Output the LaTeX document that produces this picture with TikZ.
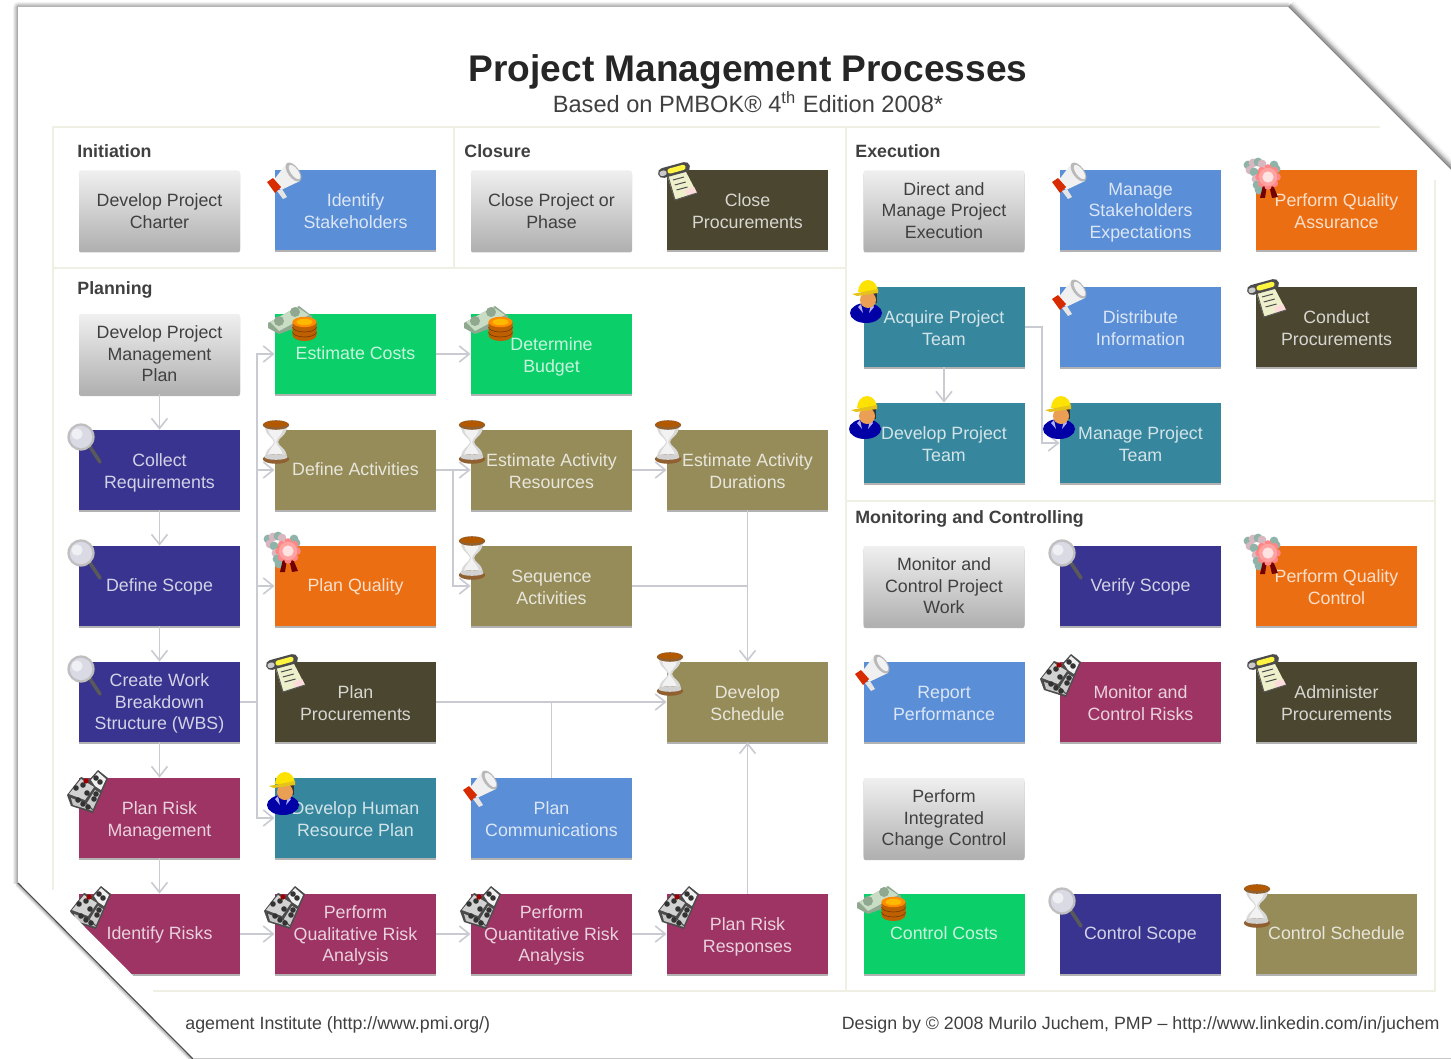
\documentclass[tikz,border=0pt]{standalone}
\usepackage{fontspec}
\setmainfont{Liberation Sans}
\usetikzlibrary{arrows.meta,shadows}
\definecolor{frameC}{HTML}{EFEFE4}
\definecolor{connC}{HTML}{C9CAD2}
\definecolor{inkC}{HTML}{404040}
\definecolor{blueC}{HTML}{5A8ED6}
\definecolor{greenC}{HTML}{0BCF69}
\definecolor{navyC}{HTML}{39348F}
\definecolor{oliveC}{HTML}{968C5A}
\definecolor{orangeC}{HTML}{EB6F12}
\definecolor{darkC}{HTML}{4B462F}
\definecolor{tealC}{HTML}{36879D}
\definecolor{roseC}{HTML}{9D3464}
\definecolor{billC}{HTML}{8FA88F}
\definecolor{billL}{HTML}{C9DCC4}
\definecolor{paperC}{HTML}{EEF0CC}
\definecolor{lensC}{HTML}{D9DAE4}
\definecolor{leafC}{HTML}{8FB3A8}
\definecolor{leafP}{HTML}{D8B8C0}
\def\boxh{20.3pt}
\newcommand{\boxstrutA}{\vrule width 0pt height \boxh depth 0pt\relax}
\newcommand{\boxstrutB}{\vrule width 0pt height 0pt depth 2.3pt\relax}
\tikzset{
  x=0.5pt,y=-0.5pt,
  oneline/.code={\def\boxh{8.1pt}},
  threeline/.code={\def\boxh{30.1pt}},
  box/.style={minimum width=80.5pt,minimum height=40pt,inner sep=0pt,align=center,
    font=\fontsize{8.9}{10.8}\selectfont,
    execute at begin node=\boxstrutA,execute at end node=\boxstrutB,
    drop shadow={shadow xshift=0pt,shadow yshift=-1pt,opacity=.3,fill=black}},
  colorbox/.style={box,fill=#1,text=white!78!#1},
  greybox/.style={box,rounded corners=1pt,top color=gray!12,bottom color=gray!62,text=inkC},
  sect/.style={anchor=base west,font=\bfseries\fontsize{8.9}{11}\selectfont,text=inkC,inner sep=0pt},
  foot/.style={font=\fontsize{8.9}{11}\selectfont,text=inkC,inner sep=0pt},
  frameline/.style={draw=frameC,line width=1.2pt},
  conn/.style={draw=connC,line width=0.9pt},
  arr/.style={conn,-{Straight Barb[length=5pt,width=8pt,line width=0.8pt]}},
  pics/horn/.style={code={
    \fill[white!88!gray] (-2,11)--(12,-7)--(25,11)--(6,20)--cycle;
    \fill[gray!55,rotate around={-54:(18.5,2)}] (18.5,2) ellipse (5.5pt and 2.8pt);
    \fill[white!90!gray,rotate around={-54:(19.5,2)}] (19.5,2) ellipse (4.2pt and 1.8pt);
    \fill[red!60!orange!85!black] (-8,12)--(-2,8)--(6,17)--(0,23)--cycle;
    \fill[white!80!gray] (2,21)--(7,19)--(12,27)--(8,29)--cycle;}},
  pics/cash/.style={code={
    \fill[billC] (-7,9)--(24,-8)--(37,2)--(37,8)--(4,20)--(-7,14)--cycle;
    \fill[billL] (-5,8)--(22,-7)--(34,1)--(4,17)--cycle;
    \fill[billC] (4,7) circle (2.5pt);
    \fill[billC] (20,-2) circle (2.5pt);
    \fill[orange!75!black] (17.5,8)--(41.5,8)--(41.5,21) arc[start angle=0,end angle=180,x radius=12,y radius=6]--cycle;
    \draw[orange!45!black,line width=.3pt] (17.5,13) arc[start angle=180,end angle=0,x radius=12,y radius=5];
    \draw[orange!45!black,line width=.3pt] (17.5,18) arc[start angle=180,end angle=0,x radius=12,y radius=5];
    \fill[orange!90!yellow] (29.5,8) ellipse (6pt and 2.6pt);
    \fill[orange!55!yellow] (29.5,8) ellipse (4pt and 1.6pt);}},
  pics/glass/.style={code={
    \fill[gray!30] (-10,-4)--(12,-4) .. controls (12,6) and (3,8) .. (3,12) .. controls (3,16) and (12,18) .. (12,28)--(-10,28) .. controls (-10,18) and (-1,16) .. (-1,12) .. controls (-1,8) and (-10,6) .. (-10,-4)--cycle;
    \fill[white!90!gray] (-7,-2)--(8,-2) .. controls (8,5) and (1,8) .. (1,12) .. controls (1,16) and (8,19) .. (8,27)--(-7,27) .. controls (-7,19) and (0,16) .. (0,12) .. controls (0,8) and (-7,5) .. (-7,-2)--cycle;
    \fill[brown!75!black] (1,29) ellipse (6.6pt and 2.4pt);
    \fill[gray!35] (1,27) ellipse (5.8pt and 1.4pt);
    \fill[brown!75!black] (1,-5) ellipse (6.6pt and 2.4pt);
    \fill[orange!70!black] (1,-6) ellipse (6pt and 1.5pt);}},
  pics/worker/.style={code={
    \fill[blue!65!black] (3,26) ellipse (8pt and 5pt);
    \fill[blue!30!white] (-5,20)--(-2,17)--(0,26)--cycle;
    \fill[blue!30!white] (11,20)--(8,17)--(6,26)--cycle;
    \fill[black!80] (9,5)--(14,5)--(14,16)--(9,16)--cycle;
    \fill[orange!55!brown!75] (5,13) ellipse (4pt and 4pt);
    \fill[yellow!85!orange] (-5,5) arc[start angle=180,end angle=360,x radius=10,y radius=12]--cycle;
    \fill[yellow!70!orange!90!black] (-11,7)--(15,2)--(15,6)--(-6,9)--cycle;}},
  pics/lens/.style={code={
    \draw[gray!70!black,line width=1.8pt,line cap=round] (11,17)--(21,32);
    \fill[gray!50] (2,7) circle (6.8pt);
    \fill[lensC] (2,7) circle (5.6pt);
    \fill[white,opacity=.6] (-2,4) circle (2.8pt);}},
  pics/rosette/.style={code={
    \foreach \q/\c in {(-8,-5)/leafC,(-3,-7)/leafP,(2,-8)/leafC,(6,-6)/leafP,(-6,0)/leafP,(-2,2)/leafC,(0,9)/leafP,(1,15)/leafC,(3,20)/leafC,(18,-5)/leafC,(20,-1)/leafC}{\fill[\c] \q circle (2.2pt);}
    \fill[red!45!black] (7,15)--(11,15)--(9,28)--(4,28)--cycle;
    \fill[red!45!black] (13,15)--(17,15)--(22,27)--(16,28)--cycle;
    \foreach \a in {0,45,...,315}{\fill[pink!70!red] ({12+9*cos(\a)},{7+9*sin(\a)}) circle (1.9pt);}
    \fill[pink!85!red] (12,7) circle (4.6pt);
    \fill[pink!45!white] (12,7) circle (2.8pt);}},
  pics/scroll/.style={code={
    \fill[paperC] (0,5)--(18,0)--(30,23)--(8,30)--cycle;
    \fill[pink!55] (20,26)--(30,23)--(27,17)--(18,20)--cycle;
    \draw[black!65,line width=.5pt] (1,6)--(8,30)--(30,23);
    \foreach \d in {0,5,10}{\draw[black!70,line width=.5pt] (6+\d*.35,10+\d)--(17+\d*.35,7+\d);}
    \draw[black!70,line width=5pt,line cap=round] (-4,3)--(18,-3);
    \draw[gray!40,line width=2.6pt,line cap=round] (-5,3.5)--(-3,3);
    \draw[yellow!75!white,line width=2.6pt,line cap=round] (3,1)--(16,-2.6);}},
  pics/dice/.style={code={
    \fill[gray!60!black] (-12,17)--(2,-1)--(10,2)--(19,-8)--(29,0)--(23,14)--(14,35)--(-8,28)--cycle;
    \fill[gray!35] (2,1)--(15,9)--(6,22)--(-10,16)--cycle;
    \fill[white!88!gray] (12,2)--(19,-6)--(27,1)--(22,12)--(16,8)--cycle;
    \fill[white!55!gray] (-8,20)--(6,25)--(14,33)--(-6,27)--cycle;
    \fill[white!60!gray] (8,25)--(16,12)--(21,15)--(14,31)--cycle;
    \foreach \p in {(-1,22),(4,26),(9,29),(-3,10),(4,7),(8,15),(15,21),(17,16),(21,4),(17,0)}{\fill[black!80] \p circle (1.4pt);}
    \fill[red!60!black] (7,3) circle (1.3pt);}}
}
\begin{document}
\begin{tikzpicture}
\useasboundingbox (0,0) rectangle (1451,1059);
\fill[white] (0,0) rectangle (1451,1059);
% sheet with a soft edge
\foreach \w/\o in {5/.05,3.8/.08,2.6/.1,1.4/.14}{
  \draw[black,opacity=\o,line width=\w pt,line join=round] (18,7)--(1288,7)--(1460,179)--(1460,1058)--(193,1058)--(18,883)--cycle;}
\foreach \w/\o in {8/.05,6/.07,4/.09}{
  \draw[black,opacity=\o,line width=\w pt] (1288,7)--(1460,179);}
\fill[white] (18,7)--(1288,7)--(1460,179)--(1460,1060)--(193,1060)--(18,883)--cycle;
% section frame
\draw[frameline] (53,890)--(53,127)--(1380,127);
\draw[frameline] (53,268)--(846,268);
\draw[frameline] (454,127)--(454,268);
\draw[frameline] (846,127)--(846,991);
\draw[frameline] (846,501)--(1435,501);
\draw[frameline] (153,991)--(1435,991)--(1435,180);
% titles
\node[font=\bfseries\fontsize{18.55}{22}\selectfont,text=black!85,inner sep=0pt] (title) at (748,72) {Project Management Processes};
\node[font=\fontsize{11.8}{13}\selectfont,text=inkC,inner sep=0pt] (subtitle) at (748,102) {Based on PMBOK® 4\textsuperscript{th} Edition 2008*};
\node[sect] (sInit) at (77,158) {Initiation};
\node[sect] (sClose) at (464,158) {Closure};
\node[sect] (sExec) at (855,158) {Execution};
\node[sect] (sPlan) at (77,294) {Planning};
\node[sect] (sMon) at (855,523) {Monitoring and Controlling};
% boxes
\node[greybox] (charter) at (159.5,210.5) {Develop Project\\Charter};
\node[colorbox=blueC] (stake) at (355.5,210.5) {Identify\\Stakeholders};
\node[greybox] (closeP) at (551.5,210.5) {Close Project or\\Phase};
\node[colorbox=darkC] (closeProc) at (747.5,210.5) {Close\\Procurements};
\node[greybox,threeline] (pmplan) at (159.5,354) {Develop Project\\Management\\Plan};
\node[colorbox=greenC,oneline] (cost) at (355.5,354) {Estimate Costs};
\node[colorbox=greenC] (budget) at (551.5,354) {Determine\\Budget};
\node[colorbox=navyC] (req) at (159.5,470) {Collect\\Requirements};
\node[colorbox=oliveC,oneline] (defAct) at (355.5,470) {Define Activities};
\node[colorbox=oliveC] (actRes) at (551.5,470) {Estimate Activity\\Resources};
\node[colorbox=oliveC] (actDur) at (747.5,470) {Estimate Activity\\Durations};
\node[colorbox=navyC,oneline] (scope) at (159.5,586) {Define Scope};
\node[colorbox=orangeC,oneline] (pQual) at (355.5,586) {Plan Quality};
\node[colorbox=oliveC] (seq) at (551.5,586) {Sequence\\Activities};
\node[colorbox=navyC,threeline] (wbs) at (159.5,702) {Create Work\\Breakdown\\Structure (WBS)};
\node[colorbox=darkC] (pProc) at (355.5,702) {Plan\\Procurements};
\node[colorbox=oliveC] (sched) at (747.5,702) {Develop\\Schedule};
\node[colorbox=roseC] (pRisk) at (159.5,818) {Plan Risk\\Management};
\node[colorbox=tealC] (hr) at (355.5,818) {Develop Human\\Resource Plan};
\node[colorbox=blueC] (comm) at (551.5,818) {Plan\\Communications};
\node[colorbox=roseC,oneline] (idRisk) at (159.5,934) {Identify Risks};
\node[colorbox=roseC,threeline] (qual) at (355.5,934) {Perform\\Qualitative Risk\\Analysis};
\node[colorbox=roseC,threeline] (quant) at (551.5,934) {Perform\\Quantitative Risk\\Analysis};
\node[colorbox=roseC] (resp) at (747.5,934) {Plan Risk\\Responses};
\node[greybox,threeline] (direct) at (944,210.5) {Direct and\\Manage Project\\Execution};
\node[colorbox=blueC,threeline] (mStake) at (1140.5,210.5) {Manage\\Stakeholders\\Expectations};
\node[colorbox=orangeC] (pqa) at (1336.5,210.5) {Perform Quality\\Assurance};
\node[colorbox=tealC] (acq) at (944,327) {Acquire Project\\Team};
\node[colorbox=blueC] (dist) at (1140.5,327) {Distribute\\Information};
\node[colorbox=darkC] (cond) at (1336.5,327) {Conduct\\Procurements};
\node[colorbox=tealC] (devT) at (944,443) {Develop Project\\Team};
\node[colorbox=tealC] (manT) at (1140.5,443) {Manage Project\\Team};
\node[greybox,threeline] (monW) at (944,586) {Monitor and\\Control Project\\Work};
\node[colorbox=navyC,oneline] (verify) at (1140.5,586) {Verify Scope};
\node[colorbox=orangeC] (pqc) at (1336.5,586) {Perform Quality\\Control};
\node[colorbox=blueC] (report) at (944,702) {Report\\Performance};
\node[colorbox=roseC] (monR) at (1140.5,702) {Monitor and\\Control Risks};
\node[colorbox=darkC] (admin) at (1336.5,702) {Administer\\Procurements};
\node[greybox,threeline] (integ) at (944,818) {Perform\\Integrated\\Change Control};
\node[colorbox=greenC,oneline] (cCost) at (944,934) {Control Costs};
\node[colorbox=navyC,oneline] (cScope) at (1140.5,934) {Control Scope};
\node[colorbox=oliveC,oneline] (cSched) at (1336.5,934) {Control Schedule};
% connectors
\coordinate (trunk) at (257,702);
\coordinate (branch) at (453,470);
\coordinate (join) at (747.5,586);
\coordinate (tee) at (551.5,702);
\coordinate (elbow) at (1042,327);
\draw[arr] (pmplan)--(req);
\draw[arr] (req)--(scope);
\draw[arr] (scope)--(wbs);
\draw[arr] (wbs)--(pRisk);
\draw[arr] (pRisk)--(idRisk);
\draw[conn] (wbs.east)--(trunk);
\draw[arr] (trunk)|-(cost.west);
\draw[arr] (trunk)|-(defAct.west);
\draw[arr] (trunk)|-(pQual.west);
\draw[arr] (trunk)|-(hr.west);
\draw[arr] (cost)--(budget);
\draw[arr] (defAct)--(actRes);
\draw[arr] (branch)|-(seq.west);
\draw[arr] (actRes)--(actDur);
\draw[arr] (actDur)--(sched);
\draw[conn] (seq.east)--(join);
\draw[arr] (pProc.east)--(sched.west);
\draw[conn] (comm.north)--(tee);
\draw[arr] (resp)--(sched);
\draw[arr] (idRisk)--(qual);
\draw[arr] (qual)--(quant);
\draw[arr] (quant)--(resp);
\draw[arr] (acq)--(devT);
\draw[arr] (acq.east)-|(elbow)|-(manT.west);
% icons
\foreach \p in {(275,170),(1060,170),(1060,287),(863,662),(471,778)}{\pic at \p {horn};}
\foreach \p in {(275,314),(471,314),(864,894)}{\pic at \p {cash};}
\foreach \p in {(275,430),(471,430),(667,430),(471,546),(669,662),(1256,894)}{\pic at \p {glass};}
\foreach \p in {(863,287),(862,403),(1056,403),(280,779)}{\pic at \p {worker};}
\foreach \p in {(79,430),(79,546),(79,662),(1060,546),(1060,894)}{\pic at \p {lens};}
\foreach \p in {(1256,170),(276,544),(1256,546)}{\pic at \p {rosette};}
\foreach \p in {(667,170),(1256,287),(275,662),(1256,662)}{\pic at \p {scroll};}
\foreach \p in {(79,778),(82,894),(276,894),(472,894),(670,894),(1052,662)}{\pic at \p {dice};}
% footer
\node[anchor=base west,foot] (fLeft) at (185,1029) {agement Institute (http://www.pmi.org/)};
\node[anchor=base east,foot] (fRight) at (1440,1029) {Design by © 2008 Murilo Juchem, PMP – http://www.linkedin.com/in/juchem};
% folded lower left corner
\fill[white] (0,884)--(42,884)--(217,1060)--(0,1060)--cycle;
\begin{scope}
\clip (0,870)--(18,870)--(18,883)--(193,1059)--(0,1059)--cycle;
\foreach \w/\o in {4/.06,3/.09,2/.12}{
  \draw[black,opacity=\o,line width=\w pt] (18,883)--(193,1059);}
\end{scope}
\draw[black!70,line width=.55pt] (18,883)--(193,1059);
\draw[gray!45,line width=1pt] (193,1058.5)--(1451,1058.5);
\end{tikzpicture}
\end{document}
